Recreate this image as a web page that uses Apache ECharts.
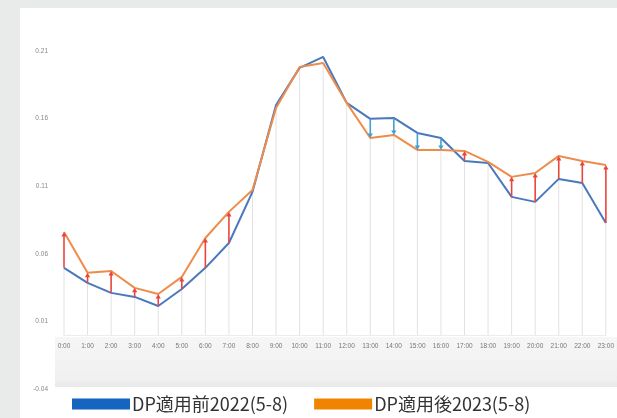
<!DOCTYPE html>
<html><head><meta charset="utf-8">
<script src="https://cdn.jsdelivr.net/npm/echarts@6/dist/echarts.min.js"></script>
<style>html,body{margin:0;padding:0;background:#e9eaea}#c{width:617px;height:418px}</style>
</head><body><div id="c"></div>
<script>
const hours = ['0:00','1:00','2:00','3:00','4:00','5:00','6:00','7:00','8:00','9:00','10:00','11:00','12:00','13:00','14:00','15:00','16:00','17:00','18:00','19:00','20:00','21:00','22:00','23:00'];
const before2022 = [0.0496,0.0385,0.0311,0.0281,0.0214,0.0340,0.0496,0.0680,0.1058,0.1701,0.1975,0.2056,0.1716,0.1598,0.1605,0.1494,0.1457,0.1287,0.1272,0.1021,0.0984,0.1154,0.1124,0.0828];
const after2023 = [0.0762,0.0459,0.0473,0.0348,0.0303,0.0429,0.0717,0.0910,0.1072,0.1679,0.1982,0.2012,0.1716,0.1457,0.1479,0.1368,0.1368,0.1361,0.1280,0.1169,0.1198,0.1324,0.1287,0.1257];
const yTicks = [-0.04, 0.01, 0.06, 0.11, 0.16, 0.21];
const nameBefore = 'DP適用前2022(5-8)';
const nameAfter = 'DP適用後2023(5-8)';

const chart = echarts.init(document.getElementById('c'));
const pairData = hours.map((h, i) => [i, before2022[i], after2023[i]]);

chart.setOption({
  backgroundColor: '#e9eaea',
  animation: false,
  graphic: [
    {type:'rect', z:-100, shape:{x:20,y:8,width:597,height:410}, style:{fill:'#ffffff'}},
    {type:'rect', z:-99, shape:{x:55,y:337,width:562,height:50},
     style:{fill:new echarts.graphic.LinearGradient(0,0,0,1,[{offset:0,color:'#f6f6f6'},{offset:0.85,color:'#f0f0f0'},{offset:1,color:'#e8e8e8'}])}}
  ],
  grid: {left:64, right:5, top:51, bottom:29, containLabel:false},
  legend: {
    left: 72, top: 395, padding: 0, icon: 'rect', itemWidth: 58, itemHeight: 11, itemGap: 26,
    textStyle: {fontSize: 18, color: '#333', fontFamily: '"Noto Sans CJK JP", sans-serif', padding:[0,0,0,-3]},
    data: [
      {name: nameBefore, itemStyle: {color: '#1565c0'}},
      {name: nameAfter, itemStyle: {color: '#f08300'}}
    ]
  },
  xAxis: {
    type: 'category', data: hours, boundaryGap: false, offset: -54,
    axisLine: {show: true, onZero: false, lineStyle: {color: '#ececec', width: 1}}, axisTick: {show: false},
    axisLabel: {fontSize: 6.5, color: '#777', margin: 8, interval: 0}
  },
  yAxis: {
    type: 'value', min: -0.04, max: 0.21,
    axisLine: {show: false}, axisTick: {show: false}, splitLine: {show: false},
    axisLabel: {customValues: yTicks, fontSize: 6.5, color: '#888', margin: 16, formatter: v => v.toFixed(2)}
  },
  series: [
    {
      type: 'custom', name: 'guides', silent: true, z: 1,
      data: pairData,
      renderItem: function (params, api) {
        const i = api.value(0);
        const lower = Math.min(api.value(1), api.value(2));
        const p0 = api.coord([i, 0]);
        const p1 = api.coord([i, lower]);
        return {type: 'line', shape: {x1: p0[0], y1: p0[1], x2: p1[0], y2: p1[1]},
                style: {stroke: '#e2e2e2', lineWidth: 1}};
      }
    },
    {
      type: 'line', name: nameBefore, data: before2022, symbol: 'none', z: 3,
      itemStyle: {color: '#1565c0'}, lineStyle: {color: '#4a78bd', width: 2}
    },
    {
      type: 'line', name: nameAfter, data: after2023, symbol: 'none', z: 3,
      itemStyle: {color: '#f08300'}, lineStyle: {color: '#ee8c4a', width: 2}
    },
    {
      type: 'custom', name: 'arrows', silent: true, z: 4,
      data: pairData,
      renderItem: function (params, api) {
        const i = api.value(0), b = api.value(1), a = api.value(2);
        if (Math.abs(a - b) < 0.005) return null;
        const p0 = api.coord([i, b]);
        const p1 = api.coord([i, a]);
        const up = a > b;
        const col = up ? '#e8463c' : '#3f9fd6';
        const dir = up ? 1 : -1;
        const head = 4.5;
        return {type: 'group', children: [
          {type: 'line', shape: {x1: p0[0], y1: p0[1], x2: p1[0], y2: p1[1] + dir * head * 0.8},
           style: {stroke: col, lineWidth: 1.6}},
          {type: 'polygon', shape: {points: [[p1[0], p1[1]], [p1[0] - 2.6, p1[1] + dir * head], [p1[0] + 2.6, p1[1] + dir * head]]},
           style: {fill: col}}
        ]};
      }
    }
  ]
});
</script></body></html>
